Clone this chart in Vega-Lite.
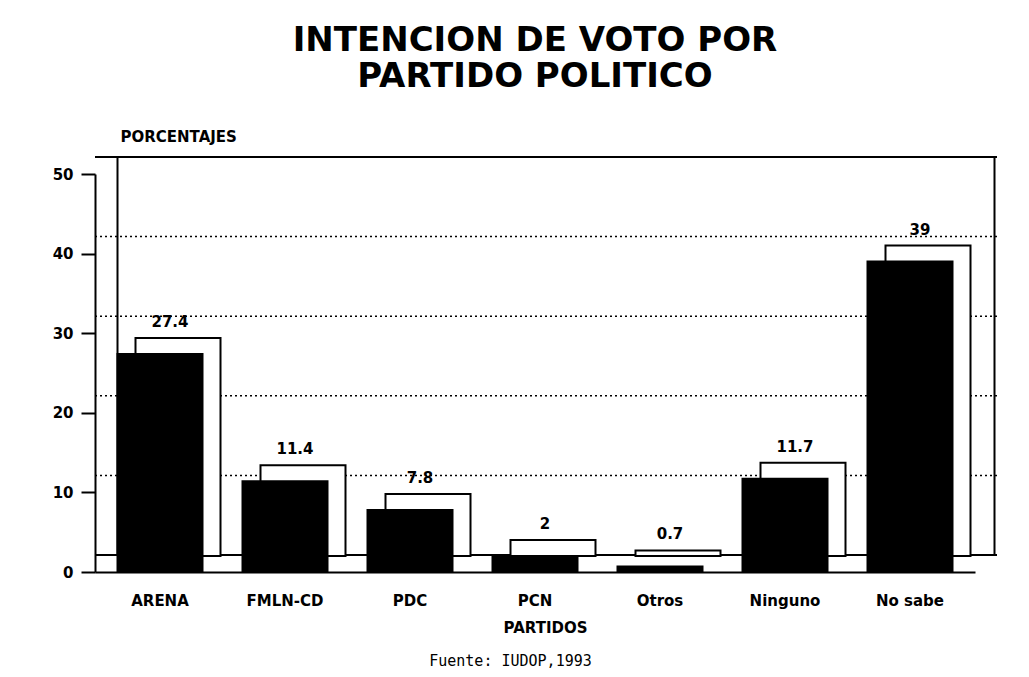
{
  "$schema": "https://vega.github.io/schema/vega-lite/v6.json",
  "width": 880,
  "height": 398,
  "autosize": {"type": "none"},
  "padding": {"left": 95, "top": 174, "right": 54, "bottom": 105},
  "background": "white",
  "title": {
    "text": ["INTENCION DE VOTO POR", "PARTIDO POLITICO"],
    "font": "DejaVu Sans",
    "fontSize": 34,
    "fontWeight": "bold",
    "color": "black",
    "anchor": "middle",
    "offset": 35,
    "lineHeight": 36
  },
  "data": {
    "values": [
      {"p": "ARENA", "v": 27.4},
      {"p": "FMLN-CD", "v": 11.4},
      {"p": "PDC", "v": 7.8},
      {"p": "PCN", "v": 2},
      {"p": "Otros", "v": 0.7},
      {"p": "Ninguno", "v": 11.7},
      {"p": "No sabe", "v": 39}
    ]
  },
  "config": {
    "view": {"stroke": null},
    "axis": {
      "domainColor": "black",
      "domainWidth": 2,
      "tickColor": "black",
      "tickWidth": 2,
      "labelColor": "black",
      "titleColor": "black",
      "labelFont": "DejaVu Sans",
      "labelFontWeight": "bold",
      "labelFontSize": 15,
      "titleFont": "DejaVu Sans",
      "titleFontWeight": "bold",
      "titleFontSize": 15,
      "grid": false
    }
  },
  "resolve": {"axis": {"x": "independent"}},
  "layer": [
    {
      "data": {"values": [{"g": 10}, {"g": 20}, {"g": 30}, {"g": 40}]},
      "mark": {"type": "rule", "color": "black", "strokeWidth": 1.5, "strokeDash": [2, 3], "xOffset": 22, "yOffset": -17},
      "encoding": {"y": {"field": "g", "type": "quantitative", "scale": {"domain": [0, 50]}}}
    },
    {
      "data": {"values": [{"g": 0}, {"g": 50}]},
      "mark": {"type": "rule", "color": "black", "strokeWidth": 2, "xOffset": 22, "yOffset": -17},
      "encoding": {"y": {"field": "g", "type": "quantitative"}}
    },
    {
      "data": {"values": [{"p": "ARENA", "lo": 0, "hi": 50}]},
      "mark": {"type": "rule", "color": "black", "strokeWidth": 2, "xOffset": 0, "yOffset": -17, "y2Offset": -17},
      "encoding": {
        "x": {"field": "p", "type": "nominal", "sort": null, "bandPosition": 0, "axis": null},
        "y": {"field": "lo", "type": "quantitative"},
        "y2": {"field": "hi"}
      }
    },
    {
      "data": {"values": [{"p": "No sabe", "lo": 0, "hi": 50}]},
      "mark": {"type": "rule", "color": "black", "strokeWidth": 2, "xOffset": 42, "yOffset": -17, "y2Offset": -17},
      "encoding": {
        "x": {"field": "p", "type": "nominal", "sort": null, "bandPosition": 1, "axis": null},
        "y": {"field": "lo", "type": "quantitative"},
        "y2": {"field": "hi"}
      }
    },
    {
      "mark": {"type": "bar", "fill": "white", "stroke": "black", "strokeWidth": 2, "xOffset": 18, "yOffset": -16},
      "encoding": {
        "x": {"field": "p", "type": "nominal", "sort": null, "scale": {"domain": ["ARENA", "FMLN-CD", "PDC", "PCN", "Otros", "Ninguno", "No sabe"], "paddingInner": 0.32, "paddingOuter": 0.18},
          "axis": {"orient": "bottom", "labelAngle": 0, "ticks": false, "labelPadding": 21, "title": "PARTIDOS", "titlePadding": 12, "titleX": 450}},
        "y": {"field": "v", "type": "quantitative", "scale": {"domain": [0, 50]},
          "axis": {"values": [0, 10, 20, 30, 40, 50], "tickSize": 14, "labelPadding": 8,
            "title": "PORCENTAJES", "titleAngle": 0, "titleAlign": "left", "titleBaseline": "bottom", "titleX": 25, "titleY": -30, "titleFontSize": 15}}
      }
    },
    {
      "mark": {"type": "bar", "fill": "black", "stroke": "black", "strokeWidth": 2},
      "encoding": {
        "x": {"field": "p", "type": "nominal", "sort": null, "axis": null},
        "y": {"field": "v", "type": "quantitative"}
      }
    },
    {
      "mark": {"type": "text", "font": "DejaVu Sans", "fontWeight": "bold", "fontSize": 15, "color": "black", "baseline": "bottom", "xOffset": 10, "yOffset": -24},
      "encoding": {
        "x": {"field": "p", "type": "nominal", "sort": null,
          "axis": {"orient": "bottom", "labels": false, "ticks": false, "domain": false, "title": "Fuente: IUDOP,1993", "titleFont": "DejaVu Sans Mono", "titleFontWeight": "normal", "titleFontSize": 15, "titlePadding": 81, "titleX": 415}},
        "y": {"field": "v", "type": "quantitative"},
        "text": {"field": "v", "type": "quantitative"}
      }
    }
  ]
}
